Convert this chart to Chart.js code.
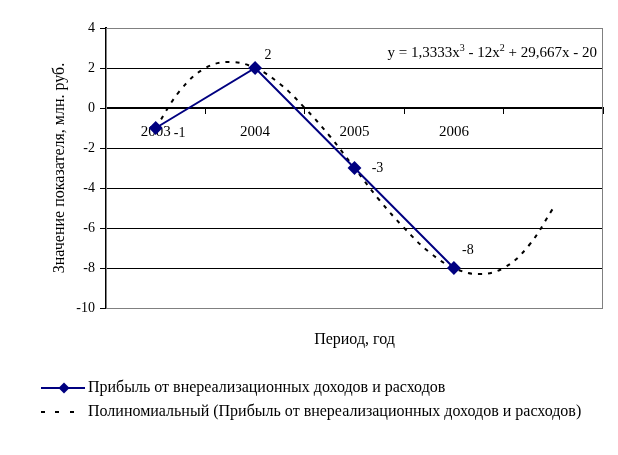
<!DOCTYPE html>
<html>
<head>
<meta charset="utf-8">
<script src="https://cdn.jsdelivr.net/npm/chart.js@4"></script>
<style>
  body { margin: 0; background: #fff; }
  #wrap { width: 618px; height: 455px; }
</style>
</head>
<body>
<div id="wrap"><canvas id="chart"></canvas></div>
<script>
// data
const years = ['2003', '2004', '2005', '2006'];
const profit = [-1, 2, -3, -8];
// polynomial trend, read at quarter steps (period 1..5)
const trendX = [1, 1.25, 1.5, 1.75, 2, 2.25, 2.5, 2.75, 3, 3.25, 3.5, 3.75, 4, 4.25, 4.5, 4.75, 5];
const trendY = [-1, 0.9, 2.0, 2.3, 2.0, 1.2, 0, -1.4, -3, -4.6, -6, -7.2, -8, -8.3, -8, -6.9, -5];
const seriesName = 'Прибыль от внереализационных доходов и расходов';
const trendName = 'Полиномиальный (Прибыль от внереализационных доходов и расходов)';

// label offsets from points (px)
const labelOffsets = [[24, 5], [13, -13], [23, 0], [14, -18]];

const NAVY = '#000080';
const FONT = "'Liberation Serif', 'Times New Roman', serif";
Chart.defaults.font.family = FONT;
Chart.defaults.font.size = 14;
Chart.defaults.color = '#000';

function legendImg(kind) {
    const c = document.createElement('canvas');
    c.width = 49; c.height = 14;
    const g = c.getContext('2d');
    if (kind === 'series') {
        g.strokeStyle = NAVY; g.lineWidth = 2;
        g.beginPath(); g.moveTo(5, 7); g.lineTo(49, 7); g.stroke();
        g.fillStyle = NAVY;
        g.beginPath(); g.moveTo(28, 1.5); g.lineTo(33.5, 7); g.lineTo(28, 12.5); g.lineTo(22.5, 7); g.closePath(); g.fill();
    } else {
        g.fillStyle = '#000';
        [5, 19, 34].forEach(x => g.fillRect(x, 6, 4, 2));
    }
    return c;
}

const extras = {
    id: 'extras',
    beforeDatasetsDraw(chart) {
        const {ctx, chartArea: a} = chart;
        ctx.save();
        ctx.strokeStyle = '#808080'; ctx.lineWidth = 1;
        ctx.strokeRect(a.left + 0.5, a.top + 0.5, a.right - a.left - 1, a.bottom - a.top);
        ctx.restore();
    },
    afterDatasetsDraw(chart) {
        const {ctx, chartArea: a} = chart;
        ctx.save();
        ctx.font = '14px ' + FONT;
        ctx.fillStyle = '#000';
        ctx.textAlign = 'center'; ctx.textBaseline = 'middle';
        chart.getDatasetMeta(0).data.forEach((pt, i) => {
            ctx.fillText(String(profit[i]), pt.x + labelOffsets[i][0], pt.y + labelOffsets[i][1]);
        });
        // trend equation
        const parts = [['y = 1,3333x', 0], ['3', 1], [' - 12x', 0], ['2', 1], [' + 29,667x - 20', 0]];
        const sup = '10px ' + FONT, norm = '15px ' + FONT;
        let w = 0;
        parts.forEach(p => { ctx.font = p[1] ? sup : norm; w += ctx.measureText(p[0]).width; });
        let x = a.right - 6 - w;
        const base = 57;
        ctx.textAlign = 'left'; ctx.textBaseline = 'alphabetic';
        parts.forEach(p => {
            ctx.font = p[1] ? sup : norm;
            ctx.fillText(p[0], x, p[1] ? base - 6 : base);
            x += ctx.measureText(p[0]).width;
        });
        ctx.restore();
    }
};

new Chart(document.getElementById('chart'), {
    type: 'line',
    data: {
        datasets: [{
            label: seriesName,
            data: years.map((y, i) => ({x: i + 1, y: profit[i]})),
            borderColor: NAVY,
            backgroundColor: NAVY,
            borderWidth: 2,
            pointStyle: 'rectRot',
            pointRadius: 5.5,
            pointBackgroundColor: NAVY,
            pointBorderColor: NAVY,
            tension: 0
        }, {
            label: trendName,
            data: trendX.map((x, i) => ({x: x, y: trendY[i]})),
            borderColor: '#000',
            borderWidth: 2,
            borderDash: [4, 6],
            pointRadius: 0,
            tension: 0.4
        }]
    },
    options: {
        responsive: true,
        maintainAspectRatio: false,
        animation: false,
        layout: { padding: { left: 33, right: 15, top: 28, bottom: 25 } },
        scales: {
            x: {
                type: 'linear',
                min: 0.5, max: 5.5,
                position: { y: 0 },
                afterBuildTicks: s => { s.ticks = [1, 2, 3, 4, 5].map(v => ({value: v})); },
                ticks: { callback: v => years[v - 1] || '', padding: 10, maxRotation: 0, font: { size: 15 } },
                grid: { offset: true, drawOnChartArea: false, drawTicks: true, tickLength: 5, tickColor: '#000' },
                border: { color: '#000', width: 2 }
            },
            xt: {
                type: 'linear',
                position: 'bottom',
                min: 0, max: 1,
                ticks: { display: false },
                grid: { display: false },
                border: { display: false },
                title: { display: true, text: 'Период, год', font: { size: 16 }, padding: { top: 0, bottom: 23 } },
                afterFit: s => { s.height = 64; }
            },
            y: {
                min: -10, max: 4,
                ticks: { stepSize: 2, padding: 5 },
                grid: {
                    color: c => (c.tick.value === 4 || c.tick.value === -10) ? '#808080' : '#000',
                    tickColor: '#000', tickLength: 6
                },
                border: { color: '#000', width: 2 },
                title: { display: true, text: 'Значение показателя, млн. руб.', font: { size: 16 }, padding: { top: 17, bottom: 0 } },
                afterFit: s => { s.width = 73; }
            }
        },
        plugins: {
            legend: {
                position: 'bottom',
                align: 'start',
                labels: {
                    usePointStyle: true,
                    pointStyleWidth: 39,
                    padding: 8,
                    color: '#000',
                    font: { size: 16 },
                    generateLabels: () => [
                        { text: seriesName, pointStyle: legendImg('series'), fontColor: '#000', datasetIndex: 0, lineWidth: 0, hidden: false },
                        { text: trendName, pointStyle: legendImg('trend'), fontColor: '#000', datasetIndex: 1, lineWidth: 0, hidden: false }
                    ]
                }
            },
            tooltip: { enabled: false }
        }
    },
    plugins: [extras]
});
</script>
</body>
</html>
